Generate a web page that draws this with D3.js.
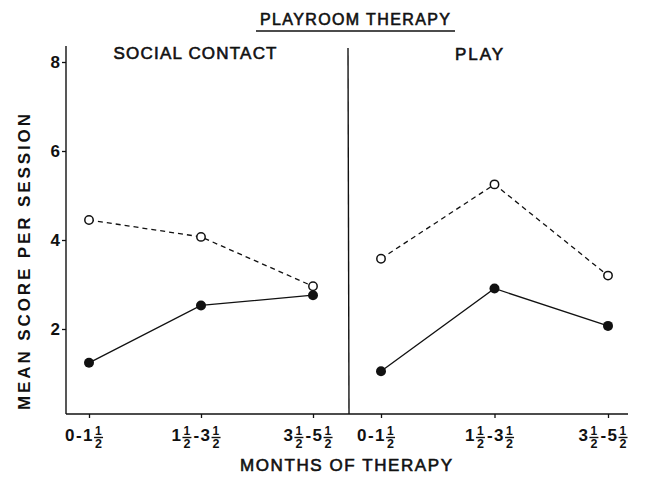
<!DOCTYPE html>
<html>
<head>
<meta charset="utf-8">
<script src="https://cdn.jsdelivr.net/npm/d3@7"></script>
<style>
  body { margin: 0; background: #fff; }
  svg { display: block; }
</style>
</head>
<body>
<svg id="grafico" width="658" height="478"></svg>
<script>
// datos
const categorias = ["0-1½", "1½-3½", "3½-5½"];
const paneles = ["SOCIAL CONTACT", "PLAY"];
const socialAbierto = [4.45, 4.07, 2.96];
const socialLleno = [1.24, 2.53, 2.76];
const juegoAbierto = [3.58, 5.25, 3.2];
const juegoLleno = [1.05, 2.91, 2.07];
const ticksY = [2, 4, 6, 8];

const fuente = "'Liberation Sans', Arial, sans-serif";
const svg = d3.select("#grafico");

var izq = 66, base = 414, arriba = 46, derecha = 628, divisor = 348;

var y = d3.scaleLinear().domain([0, 8]).range([418, 62]);
var xs = [
    d3.scalePoint().domain(categorias).range([89, 313]),
    d3.scalePoint().domain(categorias).range([381, 608])
];
var series = [
    { abierto: socialAbierto, lleno: socialLleno },
    { abierto: juegoAbierto, lleno: juegoLleno }
];

//Ejes
svg.append("line").attr("x1", izq).attr("x2", izq).attr("y1", arriba).attr("y2", base)
    .attr("stroke", "#111").attr("stroke-width", 1.4);
svg.append("line").attr("x1", izq).attr("x2", derecha).attr("y1", base).attr("y2", base)
    .attr("stroke", "#111").attr("stroke-width", 1.4);
svg.append("line").attr("x1", divisor).attr("x2", divisor + 1).attr("y1", 48).attr("y2", base)
    .attr("stroke", "#111").attr("stroke-width", 1.4);

var ejeY = svg.append("g")
    .attr("transform", "translate(" + izq + ",0)")
    .call(d3.axisLeft(y).tickValues(ticksY).tickSize(4).tickSizeOuter(0).tickPadding(2));
ejeY.select(".domain").remove();
ejeY.selectAll("line").attr("stroke", "#111").attr("stroke-width", 1.3);
ejeY.selectAll("text")
    .style("font-family", fuente).style("font-size", "17px").style("font-weight", "bold")
    .attr("fill", "#111");

xs.forEach(function (x) {
    var g = svg.append("g")
        .attr("transform", "translate(0," + base + ")")
        .call(d3.axisBottom(x).tickSize(4).tickSizeOuter(0).tickFormat(""));
    g.select(".domain").remove();
    g.selectAll("line").attr("stroke", "#111").attr("stroke-width", 1.3);

    //etiquetas con fracciones apiladas
    categorias.forEach(function (c) {
        var et = svg.append("g");
        var cursor = 0;
        var trozos = c.split("½");
        trozos.forEach(function (t, i) {
            if (t.length) {
                var tx = et.append("text").attr("x", cursor).attr("y", 441).text(t)
                    .style("font-family", fuente).style("font-size", "17px").style("font-weight", "bold")
                    .style("letter-spacing", "1.5px")
                    .attr("fill", "#111");
                cursor += tx.node().getComputedTextLength();
            }
            if (i < trozos.length - 1) {
                et.append("text").attr("x", cursor + 4.3).attr("y", 435).text("1")
                    .attr("text-anchor", "middle")
                    .style("font-family", fuente).style("font-size", "12px").style("font-weight", "bold")
                    .attr("fill", "#111");
                et.append("line").attr("x1", cursor).attr("x2", cursor + 9)
                    .attr("y1", 437.5).attr("y2", 437.5).attr("stroke", "#111").attr("stroke-width", 1.4);
                et.append("text").attr("x", cursor + 4.5).attr("y", 448).text("2")
                    .attr("text-anchor", "middle")
                    .style("font-family", fuente).style("font-size", "12.5px").style("font-weight", "bold")
                    .attr("fill", "#111");
                cursor += 11;
            }
        });
        et.attr("transform", "translate(" + (x(c) - 4 - cursor / 2) + ",0)");
    });
});

//Lineas y puntos
var linea = d3.line();
series.forEach(function (s, p) {
    var x = xs[p];
    var ptsA = categorias.map(function (c, i) { return [x(c), y(s.abierto[i])]; });
    var ptsL = categorias.map(function (c, i) { return [x(c), y(s.lleno[i])]; });

    svg.append("path").attr("d", linea(ptsA)).attr("fill", "none")
        .attr("stroke", "#111").attr("stroke-width", 1.3).attr("stroke-dasharray", "5,4");
    svg.append("path").attr("d", linea(ptsL)).attr("fill", "none")
        .attr("stroke", "#111").attr("stroke-width", 1.3);

    svg.selectAll(null).data(ptsA).join("circle")
        .attr("cx", function (d) { return d[0]; }).attr("cy", function (d) { return d[1]; })
        .attr("r", 4.2).attr("fill", "#fff").attr("stroke", "#111").attr("stroke-width", 1.5);
    svg.selectAll(null).data(ptsL).join("circle")
        .attr("cx", function (d) { return d[0]; }).attr("cy", function (d) { return d[1]; })
        .attr("r", 5).attr("fill", "#111");
});

//Titulos
function texto(t, x, yy, tam, largo) {
    return svg.append("text").attr("x", x).attr("y", yy).text(t)
        .attr("text-anchor", "middle")
        .attr("textLength", largo).attr("lengthAdjust", "spacing")
        .style("font-family", fuente).style("font-size", tam + "px")
        .attr("fill", "#111").attr("stroke", "#111").attr("stroke-width", 0.6);
}

texto("PLAYROOM THERAPY", 355, 25, 16, 190);
svg.append("line").attr("x1", 256).attr("x2", 455).attr("y1", 31).attr("y2", 31)
    .attr("stroke", "#111").attr("stroke-width", 1.4);
texto(paneles[0], 195, 59, 17, 163);
texto(paneles[1], 479, 60, 17, 48);
texto("MONTHS OF THERAPY", 346, 471, 17, 212);

svg.append("text")
    .attr("transform", "translate(30,262) rotate(-90)")
    .attr("text-anchor", "middle")
    .attr("textLength", 296).attr("lengthAdjust", "spacing")
    .text("MEAN  SCORE  PER  SESSION")
    .style("font-family", fuente).style("font-size", "17px").style("font-weight", "bold")
    .attr("fill", "#111");
</script>
</body>
</html>
